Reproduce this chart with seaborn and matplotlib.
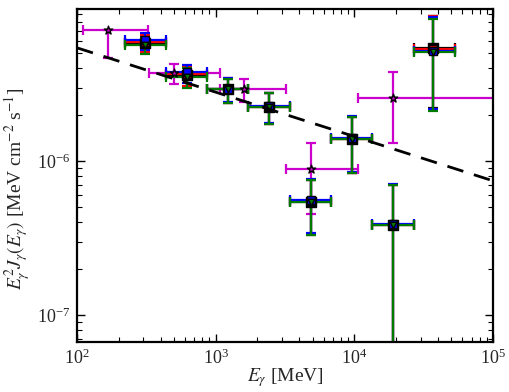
import matplotlib
matplotlib.use('Agg')
import matplotlib.pyplot as plt
import numpy as np
import pandas as pd
import seaborn as sns

# Magenta points (stars)
mag_e = [168, 500, 1600, 4865, 18970]
mag_elo = [110, 330, 1075, 3213, 10600]
mag_ehi = [325, 1075, 3213, 10600, 102000]
mag_f = [7.1e-6, 3.70e-6, 2.92e-6, 8.88e-7, 2.55e-6]
mag_flo = [4.69e-6, 3.14e-6, 2.40e-6, 4.55e-7, 1.31e-6]
mag_fhi = [7.1e-6, 4.28e-6, 3.43e-6, 1.31e-6, 3.81e-6]

# Square-binned points (several overlapping analyses)
sq_e = [309, 621, 1227, 2420, 4865, 9610, 18970, 36900]
sq_elo = [222, 438, 865, 1710, 3435, 6770, 13400, 26900]
sq_ehi = [438, 865, 1710, 3435, 6770, 13400, 26900, 53100]

green_f = [5.69e-6, 3.53e-6, 2.92e-6, 2.23e-6, 5.43e-7, 1.39e-6, 3.86e-7, 5.10e-6]
green_flo = [4.98e-6, 2.96e-6, 2.37e-6, 1.73e-6, 3.30e-7, 8.37e-7, 1e-9, 2.12e-6]
green_fhi = [6.31e-6, 4.04e-6, 3.43e-6, 2.75e-6, 7.50e-7, 1.92e-6, 7.00e-7, 8.40e-6]

blue_f = [6.12e-6, 3.81e-6, 2.95e-6, 2.26e-6, 5.60e-7, 1.40e-6, 3.88e-7, 5.20e-6]
blue_flo = [5.28e-6, 3.20e-6, 2.40e-6, 1.76e-6, 3.43e-7, 8.50e-7, 1e-9, 2.16e-6]
blue_fhi = [6.79e-6, 4.23e-6, 3.46e-6, 2.78e-6, 7.66e-7, 1.95e-6, 7.05e-7, 8.60e-6]

red_f = [5.90e-6, 3.65e-6, 2.93e-6, 2.24e-6, 5.50e-7, 1.395e-6, 3.87e-7, 5.30e-6]
red_flo = [5.10e-6, 3.05e-6, 2.38e-6, 1.74e-6, 3.35e-7, 8.4e-7, 1e-9, 2.18e-6]
red_fhi = [6.55e-6, 4.12e-6, 3.44e-6, 2.76e-6, 7.55e-7, 1.93e-6, 7.02e-7, 8.70e-6]

black_f = [5.80e-6, 3.60e-6, 2.92e-6, 2.23e-6, 5.45e-7, 1.39e-6, 3.86e-7, 5.40e-6]
black_flo = [5.05e-6, 3.02e-6, 2.37e-6, 1.73e-6, 3.32e-7, 8.4e-7, 1e-9, 2.20e-6]
black_fhi = [6.45e-6, 4.08e-6, 3.43e-6, 2.75e-6, 7.52e-7, 1.92e-6, 7.0e-7, 8.80e-6]

# Power-law fit line (dashed)
fit_e = [1e2, 1e5]
fit_f = [5.43e-6, 7.43e-7]

sns.set_theme(style='ticks')
plt.rcParams['font.family'] = ['Liberation Serif', 'DejaVu Serif']
plt.rcParams['mathtext.fontset'] = 'stix'
plt.rcParams['xtick.direction'] = 'in'
plt.rcParams['ytick.direction'] = 'in'
plt.rcParams['xtick.top'] = True
plt.rcParams['ytick.right'] = True

fig = plt.figure(figsize=(5.1, 3.92), dpi=100)
ax = fig.add_axes([0.151, 0.128, 0.816, 0.849])
ax.set_xscale('log')
ax.set_yscale('log')


def draw(e, elo, ehi, f, flo, fhi, color, marker, ms):
    e = np.array(e)
    f = np.array(f)
    xerr = [e - np.array(elo), np.array(ehi) - e]
    yerr = [f - np.array(flo), np.array(fhi) - f]
    ax.errorbar(e, f, xerr=xerr, yerr=yerr, fmt='none', ecolor=color,
                elinewidth=1.6, capsize=3.5, capthick=1.6, zorder=2)
    df = pd.DataFrame({'E': e, 'F': f})
    sns.scatterplot(data=df, x='E', y='F', ax=ax, marker=marker, s=ms,
                    color=color, edgecolor='black', linewidth=1.0, zorder=4)


draw(mag_e, mag_elo, mag_ehi, mag_f, mag_flo, mag_fhi, '#cc00cc', '*', 40)
draw(sq_e, sq_elo, sq_ehi, black_f, black_flo, black_fhi, 'black', 's', 55)
draw(sq_e, sq_elo, sq_ehi, red_f, red_flo, red_fhi, 'red', 's', 30)
draw(sq_e, sq_elo, sq_ehi, blue_f, blue_flo, blue_fhi, 'blue', 's', 30)
draw(sq_e, sq_elo, sq_ehi, green_f, green_flo, green_fhi, '#007a00', 'v', 22)

fit = pd.DataFrame({'E': fit_e, 'F': fit_f})
sns.lineplot(data=fit, x='E', y='F', ax=ax, color='black', lw=2,
             dashes=False, zorder=5)
ax.lines[-1].set_dashes([6, 4])

ax.set_xlim(1e2, 1e5)
ax.set_ylim(6.7e-8, 9.7e-6)
ax.tick_params(which='major', length=6, width=1, labelsize=13, pad=5,
               color='black')
ax.tick_params(which='minor', length=3.5, width=0.8, color='black')
for s in ax.spines.values():
    s.set_linewidth(1.6)
    s.set_color('black')

ax.set_xlabel(r'$E_\gamma$ [MeV]', fontsize=14)
ax.set_ylabel(r'$E_\gamma^2 J_\gamma(E_\gamma)$ [MeV cm$^{-2}$ s$^{-1}$]',
              fontsize=14)
ax.xaxis.set_label_coords(0.5, -0.072)
ax.yaxis.set_label_coords(-0.105, 0.46)

fig.savefig('out.png', dpi=100)
